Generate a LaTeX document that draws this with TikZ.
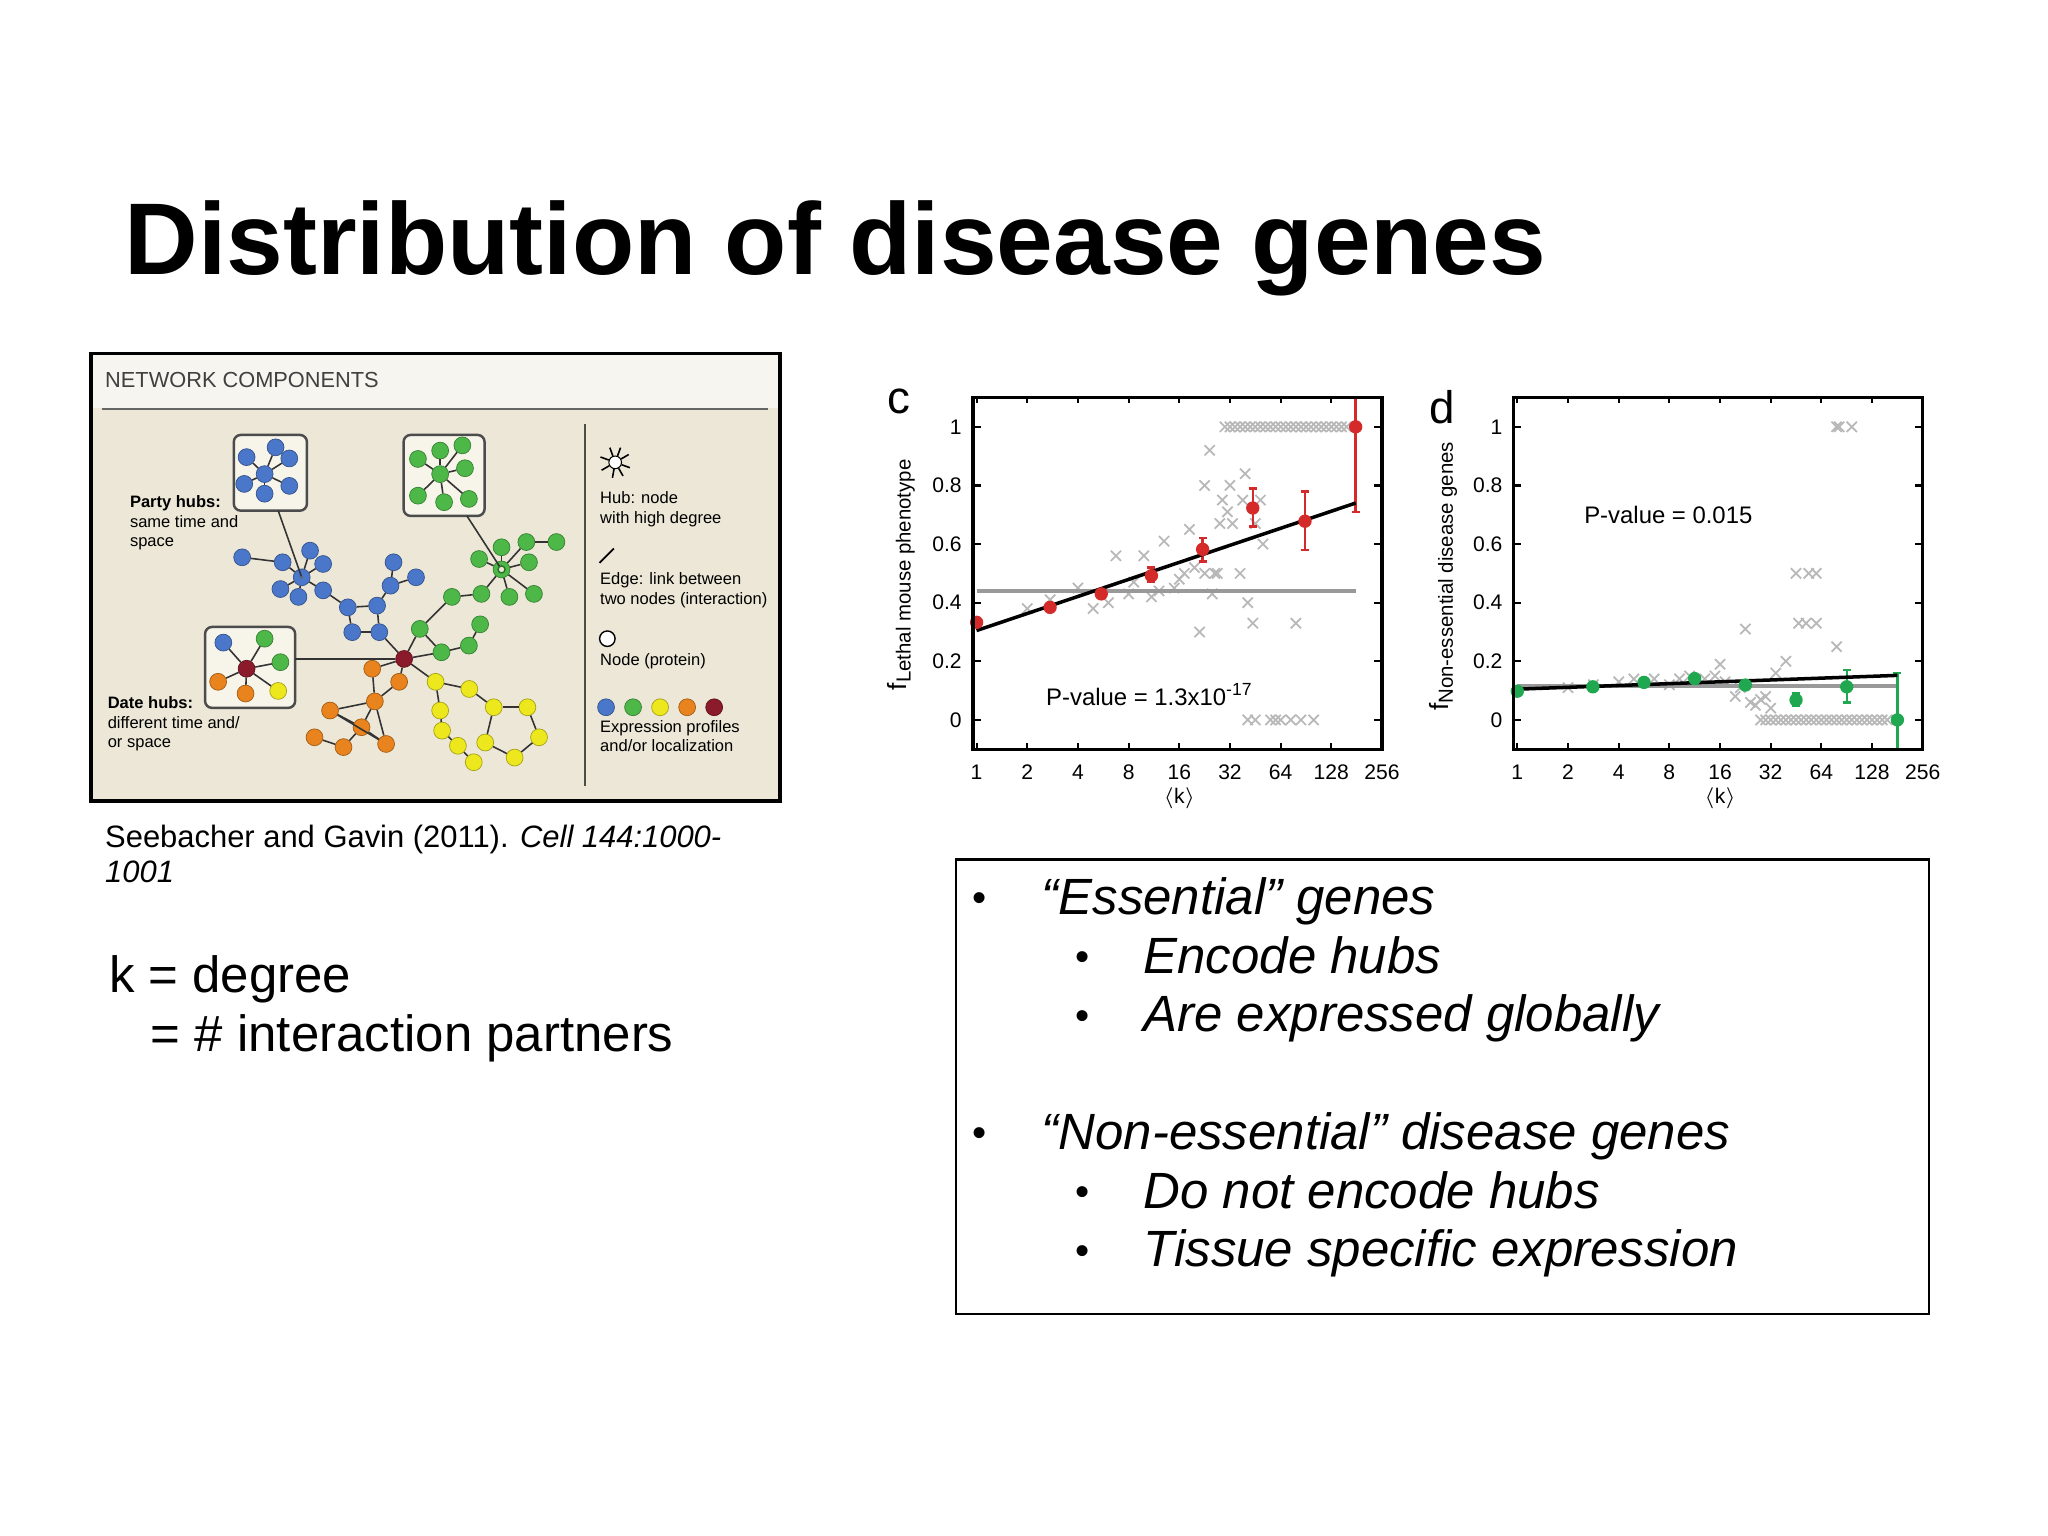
\documentclass[tikz,border=0pt]{standalone}
\usepackage{fontspec}
\setmainfont{Liberation Sans}
\usetikzlibrary{shapes.misc}
\definecolor{nblue}{HTML}{4A77C9}
\definecolor{ngreen}{HTML}{4DB848}
\definecolor{nyel}{HTML}{EDE81E}
\definecolor{norg}{HTML}{E8831E}
\definecolor{nred}{HTML}{8B1A2A}
\definecolor{panelbg}{HTML}{ECE7D6}
\definecolor{insetbg}{HTML}{F7F4EA}
\definecolor{pred}{HTML}{D42A2A}
\definecolor{pgreen}{HTML}{1FA84F}
\tikzset{
  nd/.style={circle,minimum size=4.8pt,inner sep=0pt,draw=#1!70!black,line width=0.2pt,fill=#1},
  ed/.style={draw=black!80,line width=0.45pt},
  inset/.style={draw=black!70,fill=insetbg,rounded corners=2pt,line width=0.7pt},
  small/.style={font=\fontsize{4.7}{5.5}\selectfont,align=left,inner sep=0pt},
  xm/.style={cross out,draw=black!28,minimum size=2.4pt,inner sep=0pt,line width=0.5pt},
  dot/.style={circle,fill=#1,minimum size=3.8pt,inner sep=0pt},
  tk/.style={font=\fontsize{6}{7}\selectfont,inner sep=0pt},
  bul/.style={font=\fontsize{14.5}{16}\selectfont\itshape,anchor=base west,inner sep=0pt},
  bdot/.style={anchor=base,inner sep=0pt,font=\fontsize{11.5}{13}\selectfont},
}
\begin{document}
\begin{tikzpicture}[x=0.01306cm,y=-0.01306cm]
\useasboundingbox (0,0) rectangle (1568,1176);
\fill[white] (0,0) rectangle (1568,1176);
% title
\node[anchor=base west,inner sep=0pt,font=\fontsize{29}{34}\selectfont\bfseries] (title) at (95,210) {Distribution of disease genes};

% ===== network panel =====
\draw[fill=panelbg,line width=1.1pt] (70,271) rectangle (597,613);
\fill[white!60!panelbg] (71,272) rectangle (596,312);
\node[anchor=base west,inner sep=0pt,font=\fontsize{6.2}{7}\selectfont,text=black!75] (nc) at (80,297) {NETWORK COMPONENTS};
\draw[black!60,line width=0.5pt] (78,313) -- (588,313);
\draw[black!70,line width=0.5pt] (448,325) -- (448,602);

% insets
\draw[inset] (179,333) rectangle (235,391);
\draw[inset] (309,333) rectangle (371,395);
\draw[inset] (157,480) rectangle (226,542);
\coordinate (pa) at (213,391);
\coordinate (pg) at (357.5,395);
\coordinate (pd) at (226,504.5);

% main network nodes
\foreach \n/\x/\y in {b1/185.4/426.7,b2/216.4/430.5,b3/237.4/421.6,b4/247.4/431.8,b5/214.7/451,b6/228.5/457,b7/247.4/452,b8/266.3/465,b9/288.7/463.7,b10/269.7/484,b11/290.4/484,b12/299/448.4,b13/301.3/430.5,b14/318.5/442}
  \node[nd=nblue] (\n) at (\x,\y) {};
\node[nd=nblue] (bh) at (231,442) {};
\foreach \n/\x/\y in {g1/366.8/428,g2/384/419,g3/403/415,g4/426/415,g5/405/430.5,g6/408.8/454.7,g7/390/457,g8/368.6/454.7,g9/346/457,g10/321.4/481.5,g11/338/499.4,g12/359/494.3,g13/367.6/478}
  \node[nd=ngreen] (\n) at (\x,\y) {};
\node[nd=ngreen] (gh) at (384,436) {};
\node[nd=nred] (rh) at (309.4,504.5) {};
\foreach \n/\x/\y in {o1/285/512,o2/305.6/522,o3/287/537,o4/252.7/544,o5/276.8/556.8,o6/240.8/564.5,o7/263/572,o8/295.6/569.6}
  \node[nd=norg] (\n) at (\x,\y) {};
\foreach \n/\x/\y in {y1/333.5/522,y2/359.3/527.5,y3/378/541.5,y4/403.8/541.5,y5/412.7/564.5,y6/394/580,y7/371.5/568.5,y8/337/544,y9/338.5/559.4,y10/350.6/571,y11/362.7/583.6}
  \node[nd=nyel] (\n) at (\x,\y) {};
\foreach \a/\b in {b1/b2,b2/bh,bh/b3,bh/b4,bh/b5,bh/b6,bh/b7,b7/b8,b8/b9,b9/b11,b11/b10,b10/b8,b9/b12,b12/b13,b12/b14,b11/rh,
  gh/g1,gh/g2,gh/g3,g3/g4,gh/g5,gh/g6,gh/g7,gh/g8,g8/g9,g9/g10,g10/rh,g10/g11,rh/g11,g11/g12,g12/g13,
  rh/o1,rh/o2,o2/o3,o1/o3,o3/o4,o3/o5,o4/o5,o4/o8,o3/o8,o5/o8,o5/o7,o7/o6,
  rh/y1,y1/y2,y2/y3,y3/y4,y4/y5,y5/y6,y6/y7,y7/y3,y1/y8,y8/y9,y9/y10,y10/y11}
  \draw[ed] (\a) -- (\b);
\draw[ed] (pa) -- (bh.center);
\draw[ed] (pg) -- (gh.center);
\draw[ed] (pd) -- (rh);
\fill[black!60] (bh) circle (1.2);
\node[circle,draw=ngreen!60!black,fill=panelbg,minimum size=2pt,inner sep=0pt] at (gh) {};

% inset stars
\node[nd=nblue] (ib) at (202.6,363) {};
\foreach \n/\x/\y in {ib1/211/342.5,ib2/221.5/351,ib3/221.5/372,ib4/202.6/378,ib5/187/370.5,ib6/188.8/350}
  {\node[nd=nblue] (\n) at (\x,\y) {}; \draw[ed] (ib) -- (\n);}
\node[nd=ngreen] (ig) at (337,363) {};
\foreach \n/\x/\y in {ig1/337/345,ig2/354/341,ig3/356/358.5,ig4/359/382,ig5/340/384.5,ig6/320/379.5,ig7/320/351.4}
  {\node[nd=ngreen] (\n) at (\x,\y) {}; \draw[ed] (ig) -- (\n);}
\node[nd=nred] (id) at (188.8,512) {};
\foreach \n/\c/\x/\y in {id1/nblue/171/492,id2/ngreen/202.6/489,id3/ngreen/214.7/507,id4/nyel/213/529,id5/norg/188/531,id6/norg/167/522}
  {\node[nd=\c] (\n) at (\x,\y) {}; \draw[ed] (id) -- (\n);}

% labels
\node[small,anchor=north west] (ph) at (99,379) {\textbf{Party hubs:}\\same time and\\space};
\node[small,anchor=north west] (dh) at (82,533) {\textbf{Date hubs:}\\different time and/\\or space};

% legend
\node[circle,draw=black,fill=white,minimum size=3.6pt,inner sep=0pt,line width=0.3pt] (star) at (471,354) {};
\foreach \a in {20,60,100,150,200,250,290,330} \draw[line width=0.45pt] (star) -- ++(\a:12);
\node[small,anchor=north west] (hubt) at (459,376) {Hub: node\\with high degree};
\coordinate (e1) at (459,431); \coordinate (e2) at (470,420);
\draw[line width=0.5pt] (e1) -- (e2);
\node[small,anchor=north west] (edt) at (459,438) {Edge: link between\\two nodes (interaction)};
\node[circle,draw=black,fill=white,minimum size=4.4pt,inner sep=0pt,line width=0.4pt] (nodel) at (465,489) {};
\node[small,anchor=north west] (nodt) at (459,500) {Node (protein)};
\foreach \c [count=\i] in {nblue,ngreen,nyel,norg,nred}
  \node[nd=\c] (lg\i) at (464+20.7*\i-20.7,541.5) {};
\node[small,anchor=north west] (expt) at (459,551) {Expression profiles\\and/or localization};

% citation and k
\node[anchor=base west,inner sep=0pt,font=\fontsize{8.8}{10}\selectfont] (cite) at (80,649) {Seebacher and Gavin (2011). \textit{Cell 144:1000-}};
\node[anchor=base west,inner sep=0pt,font=\fontsize{8.8}{10}\selectfont\itshape] (cite2) at (80,676) {1001};
\node[anchor=base west,inner sep=0pt,font=\fontsize{14.5}{16}\selectfont] (kd) at (83,760) {k = degree};
\node[anchor=base west,inner sep=0pt,font=\fontsize{14.5}{16}\selectfont] (kp) at (115,805) {= \# interaction partners};

% ===== plot c =====
\begin{scope}[shift={(747.7,551.2)},x={(38.8,0)},y={(0,-224.4)}]
\foreach \l/\f in {1.0/0.38,1.45/0.41,2/0.45,2.3/0.38,2.6/0.40,2.75/0.56,3.0/0.43,3.1/0.47,3.3/0.56,3.45/0.42,3.6/0.44,3.7/0.61,3.9/0.45,4.0/0.48,4.1/0.5,4.2/0.65,4.3/0.52,4.4/0.3,4.5/0.5,4.5/0.8,4.6/0.92,4.65/0.43,4.7/0.5,4.75/0.5,4.8/0.67,4.85/0.75,4.95/0.71,5.0/0.8,5.05/0.67,5.2/0.5,5.25/0.75,5.3/0.84,5.35/0.4,5.45/0.33,5.5/0.67,5.6/0.75,5.65/0.6,6.3/0.33}
  \node[xm] at (\l,\f) {};
\foreach \l in {4.9,5.0,...,7.4} \node[xm] at (\l,1) {};
\foreach \l in {5.35,5.5,5.8,5.9,6.0,6.2,6.4,6.65} \node[xm] at (\l,0) {};
\draw[black!40,line width=1.2pt] (0,0.44) -- (7.48,0.44);
\foreach \l/\lo/\hi in {3.45/0.47/0.52,4.46/0.54/0.62,5.45/0.66/0.79,6.48/0.58/0.78,7.48/0.71/1.1}
  {\draw[pred,line width=0.7pt] (\l,\lo) -- (\l,\hi); \draw[pred,line width=0.7pt] (\l-0.08,\lo) -- (\l+0.08,\lo);}
\foreach \l/\hi in {3.45/0.52,4.46/0.62,5.45/0.79,6.48/0.78} \draw[pred,line width=0.7pt] (\l-0.08,\hi) -- (\l+0.08,\hi);
\draw[black,line width=1pt] (0,0.305) -- (7.48,0.74);
\foreach \l/\f [count=\i] in {0/0.333,1.45/0.384,2.46/0.43,3.45/0.492,4.46/0.582,5.45/0.723,6.48/0.678,7.48/1.0}
  \node[dot=pred] (rc\i) at (\l,\f) {};
\draw[line width=0.9pt] (-0.07,-0.1) rectangle (8,1.1);
\foreach \l in {0,...,8} {\draw[line width=0.6pt] (\l,-0.1) -- (\l,-0.08); \draw[line width=0.6pt] (\l,1.1) -- (\l,1.08);}
\foreach \f in {0,0.2,...,1.0} {\draw[line width=0.6pt] (-0.07,\f) -- (0.08,\f); \draw[line width=0.6pt] (8,\f) -- (7.85,\f);}
\foreach \l/\t in {0/1,1/2,2/4,3/8,4/16,5/32,6/64,7/128,8/256} \node[tk] at (\l,-0.177) {\t};
\foreach \f/\t in {0/0,0.2/0.2,0.4/0.4,0.6/0.6,0.8/0.8,1/1} \node[tk,anchor=east] at (-0.28,\f) {\t};
\node[tk] (kc) at (4,-0.266) {$\langle$k$\rangle$};
\node[inner sep=0pt,font=\fontsize{13}{14}\selectfont] (lc) at (-1.54,1.088) {c};
\node[rotate=90,inner sep=0pt,font=\fontsize{7.5}{8}\selectfont] (yc) at (-1.49,0.495) {f\raisebox{-1.2pt}{\fontsize{5.8}{6}\selectfont Lethal mouse phenotype}};
\node[inner sep=0pt,font=\fontsize{6.8}{8}\selectfont] (pc) at (3.4,0.086) {P-value = 1.3x10\raisebox{3pt}{\fontsize{5}{5}\selectfont -17}};
\end{scope}

% ===== plot d =====
\begin{scope}[shift={(1161.7,551.2)},x={(38.8,0)},y={(0,-224.4)}]
\foreach \l/\f in {1.0/0.11,1.5/0.12,2/0.13,2.3/0.14,2.7/0.14,3.0/0.12,3.2/0.14,3.4/0.15,3.7/0.14,3.9/0.15,4.0/0.19,4.1/0.13,4.3/0.08,4.4/0.11,4.5/0.31,4.6/0.06,4.7/0.05,4.8/0.07,4.9/0.08,5.0/0.04,5.1/0.16,5.3/0.2,5.5/0.5,5.75/0.5,5.9/0.5,5.55/0.33,5.7/0.33,5.9/0.33,6.3/0.25,6.3/1.0,6.35/1.0,6.6/1.0}
  \node[xm] at (\l,\f) {};
\foreach \l in {4.8,4.9,...,7.3} \node[xm] at (\l,0) {};
\draw[black!40,line width=1.2pt] (0,0.115) -- (7.5,0.115);
\foreach \l/\lo/\hi in {5.5/0.05/0.09,6.5/0.06/0.17}
  {\draw[pgreen,line width=0.7pt] (\l,\lo) -- (\l,\hi); \draw[pgreen,line width=0.7pt] (\l-0.08,\lo) -- (\l+0.08,\lo); \draw[pgreen,line width=0.7pt] (\l-0.08,\hi) -- (\l+0.08,\hi);}
\draw[pgreen,line width=0.7pt] (7.5,-0.1) -- (7.5,0.16); \draw[pgreen,line width=0.7pt] (7.42,0.16) -- (7.58,0.16);
\draw[black,line width=1pt] (0,0.105) -- (7.5,0.152);
\foreach \l/\f [count=\i] in {0/0.098,1.49/0.113,2.5/0.128,3.5/0.141,4.5/0.119,5.5/0.068,6.5/0.113,7.5/0}
  \node[dot=pgreen] (gd\i) at (\l,\f) {};
\draw[line width=0.9pt] (-0.07,-0.1) rectangle (8,1.1);
\foreach \l in {0,...,8} {\draw[line width=0.6pt] (\l,-0.1) -- (\l,-0.08); \draw[line width=0.6pt] (\l,1.1) -- (\l,1.08);}
\foreach \f in {0,0.2,...,1.0} {\draw[line width=0.6pt] (-0.07,\f) -- (0.08,\f); \draw[line width=0.6pt] (8,\f) -- (7.85,\f);}
\foreach \l/\t in {0/1,1/2,2/4,3/8,4/16,5/32,6/64,7/128,8/256} \node[tk] at (\l,-0.177) {\t};
\foreach \f/\t in {0/0,0.2/0.2,0.4/0.4,0.6/0.6,0.8/0.8,1/1} \node[tk,anchor=east] at (-0.28,\f) {\t};
\node[tk] (kd2) at (4,-0.266) {$\langle$k$\rangle$};
\node[inner sep=0pt,font=\fontsize{13}{14}\selectfont] (ld) at (-1.49,1.066) {d};
\node[rotate=90,inner sep=0pt,font=\fontsize{7.5}{8}\selectfont] (yd) at (-1.46,0.49) {f\raisebox{-1.2pt}{\fontsize{5.8}{6}\selectfont Non-essential disease genes}};
\node[inner sep=0pt,font=\fontsize{6.8}{8}\selectfont] (pd2) at (2.98,0.70) {P-value = 0.015};
\end{scope}

% ===== bullet box =====
\draw[line width=0.7pt] (732,658) rectangle (1477,1006);
\foreach \y in {698,878} \node[bdot] at (750,\y) {\textbullet};
\foreach \y in {743,788,923,968} \node[bdot] at (829,\y) {\textbullet};
\node[bul] (e1t) at (797,700) {“Essential” genes};
\node[bul] (e2t) at (875,745) {Encode hubs};
\node[bul] (e3t) at (875,790) {Are expressed globally};
\node[bul] (n1t) at (797,880) {“Non-essential” disease genes};
\node[bul] (n2t) at (875,925) {Do not encode hubs};
\node[bul] (n3t) at (875,970) {Tissue specific expression};
\end{tikzpicture}
\end{document}
